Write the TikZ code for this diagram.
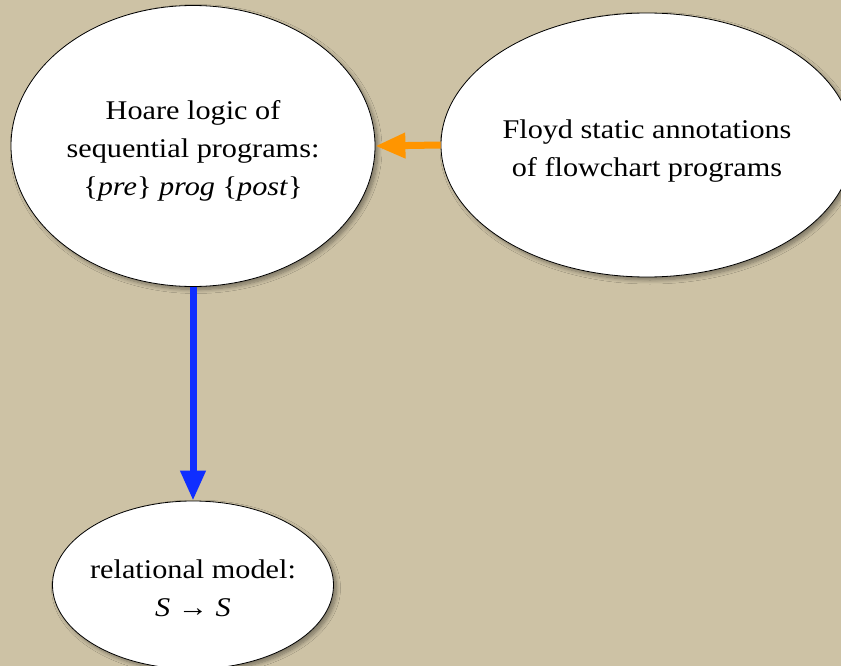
\documentclass[tikz,border=0pt]{standalone}
\usepackage{fontspec}
\setmainfont[FakeStretch=1.12]{Liberation Serif}
\usetikzlibrary{shapes.geometric,arrows.meta,shadows.blur}
\definecolor{paper}{HTML}{CDC2A5}
\definecolor{flowblue}{HTML}{0F2EFF}
\definecolor{floworange}{HTML}{FF9500}
\tikzset{
  bubble/.style={ellipse, draw=black, line width=0.8pt, fill=white,
    inner sep=0pt,
    blur shadow={shadow xshift=3pt, shadow yshift=-3pt, shadow blur steps=8, shadow blur radius=4pt, shadow opacity=40}},
  caption/.style={align=center, inner sep=0pt, font=\fontsize{27}{38}\selectfont},
  link/.style={line width=7pt, -{Triangle[length=30pt,width=24pt]}}
}
\begin{document}
\begin{tikzpicture}[x=1pt,y=-1pt]
  \fill[paper] (0,0) rectangle (841,666);
  \useasboundingbox (0,0) rectangle (841,666);
  \clip (0,0) rectangle (841,666);

  % the three ellipses
  \node[bubble, minimum width=364pt, minimum height=281pt] (hoare) at (193,146) {};
  \node[bubble, minimum width=412pt, minimum height=264pt] (floyd) at (647,145) {};
  \node[bubble, minimum width=281pt, minimum height=168pt] (rel) at (193,585) {};

  % their texts
  \node[caption] (hoaretext) at ([yshift=-5pt]hoare.center)
    {Hoare logic of\\ sequential programs:\\ \{\textit{pre}\} \textit{prog} \{\textit{post}\}};
  \node[caption] (floydtext) at ([yshift=-6pt]floyd.center)
    {Floyd static annotations\\ of flowchart programs};
  \node[caption] (reltext) at ([yshift=-3pt]rel.center)
    {relational model:\\ \textit{S} → \textit{S}};

  % connectors
  \draw[link, floworange] (floyd.west) -- (hoare.east);
  \draw[link, flowblue] (hoare.south) -- (rel.north);
\end{tikzpicture}
\end{document}
